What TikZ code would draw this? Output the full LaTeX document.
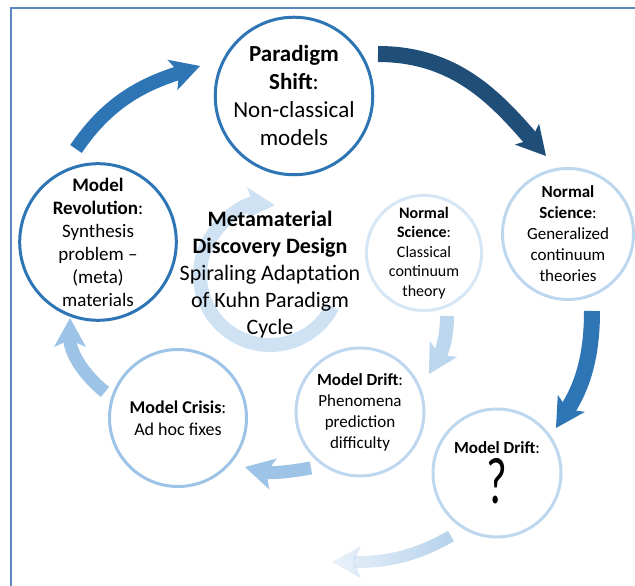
\documentclass[tikz,border=0pt]{standalone}
\usepackage{fontspec}
\setmainfont{Carlito}
\usetikzlibrary{arrows.meta,fadings}

\definecolor{navy}{HTML}{1F4E79}
\definecolor{midblue}{HTML}{2E75B6}
\definecolor{softblue}{HTML}{9DC3E6}
\definecolor{paleblue}{HTML}{BDD7EE}
\definecolor{iceblue}{HTML}{D6E6F5}
\definecolor{ringblue}{HTML}{CFE2F3}
\definecolor{fadeblue}{HTML}{B4D1EB}
\definecolor{framecol}{HTML}{5B87C0}

\tikzfading[name=fadeleft, left color=transparent!75, right color=transparent!0]

\tikzset{
  stage/.style={circle, draw=#1, line width=3pt, inner sep=0pt, align=center},
  flow/.style={draw=#1, line cap=butt, -{Stealth[length=29pt, width=32pt, inset=7pt, line width=0pt]}},
}

\begin{document}
\begin{tikzpicture}[x=1pt, y=1pt]
\useasboundingbox (0,0) rectangle (635,586);

%frame
\draw[framecol, line width=1.2pt] (11,-5) |- (645,578);

%inner cycle
\coordinate (hub) at (270,311);
\draw[flow=ringblue, line width=14pt] ([shift={(-27:70)}]hub) arc[start angle=-27, end angle=-274, radius=70];
\node[font=\fontsize{22}{27}\selectfont, align=center] (core) at (hub) {\textbf{Metamaterial}\\\textbf{Discovery Design}\\Spiraling Adaptation\\of Kuhn Paradigm\\Cycle};

%stages
\node[stage=midblue, minimum size=151pt, font=\fontsize{23}{28}\selectfont] (shift) at (294,490) {\textbf{Paradigm}\\\textbf{Shift}:\\Non-classical\\models};
\node[stage=paleblue, minimum size=131pt, font=\fontsize{17}{21}\selectfont] (gen) at (568,352) {\textbf{Normal}\\\textbf{Science}:\\Generalized\\continuum\\theories};
\node[stage=paleblue, minimum size=128pt, font=\fontsize{17}{21}\selectfont] (qdrift) at (497,113) {\textbf{Model Drift}:\\[4pt]\scalebox{0.68}[1]{\fontsize{66}{66}\selectfont ?}};
\node[stage=iceblue, minimum size=112pt, font=\fontsize{16}{19.5}\selectfont] (classic) at (424,333) {\textbf{Normal}\\\textbf{Science}:\\Classical\\continuum\\theory};
\node[stage=paleblue, minimum size=128pt, font=\fontsize{17}{21}\selectfont] (pdrift) at (360,174) {\textbf{Model Drift}:\\Phenomena\\prediction\\difficulty};
\node[stage=softblue, minimum size=137pt, font=\fontsize{18}{22}\selectfont] (crisis) at (178,168) {\textbf{Model Crisis}:\\Ad hoc fixes};
\node[stage=midblue, minimum size=147pt, font=\fontsize{19}{23}\selectfont] (rev) at (98,344) {\textbf{Model}\\\textbf{Revolution}:\\Synthesis\\problem –\\(meta)\\materials};

%arrow ends
\coordinate (a1s) at (76,437);  \coordinate (a1e) at (200,520);
\coordinate (a2s) at (378,532); \coordinate (a2e) at (546,430);
\coordinate (a3s) at (592,275); \coordinate (a3e) at (556,158);
\coordinate (a4s) at (451,50);  \coordinate (a4e) at (332,24);
\coordinate (a5s) at (311,118); \coordinate (a5e) at (245,119);
\coordinate (a6s) at (105,194); \coordinate (a6e) at (70,268);
\coordinate (a7s) at (447,270); \coordinate (a7e) at (429,212);

%outer spiral
\draw[flow=midblue, line width=14pt] (a1s) to[out=56, in=198] (a1e);
\draw[flow=navy, line width=16pt] (a2s) to[out=0, in=131] (a2e);
\draw[flow=midblue, line width=16pt] (a3s) to[out=-90, in=58] (a3e);
\draw[flow=fadeblue, line width=12pt, path fading=fadeleft] (a4s) to[out=210, in=0] (a4e);

%inner spiral
\draw[flow=paleblue, line width=14pt] (a7s) to[out=-90, in=60] (a7e);
\draw[flow=softblue, line width=13pt] (a5s) to[out=190, in=-14] (a5e);
\draw[flow=softblue, line width=13pt] (a6s) to[out=141, in=270] (a6e);
\end{tikzpicture}
\end{document}
